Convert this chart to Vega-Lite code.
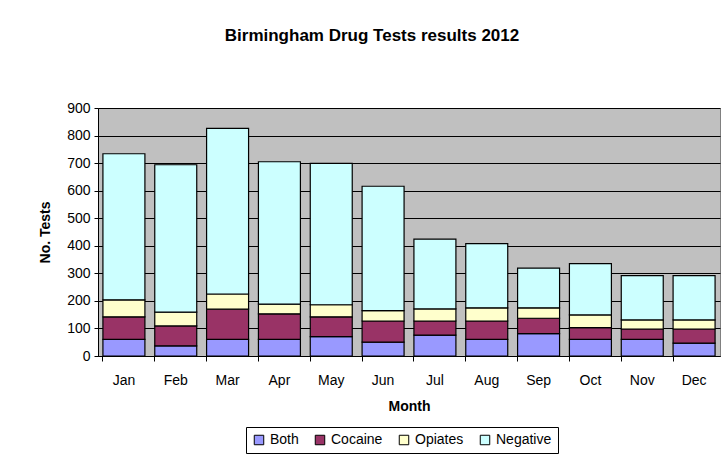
{
  "$schema": "https://vega.github.io/schema/vega-lite/v6.json",
  "autosize": "none",
  "width": 622,
  "height": 248,
  "padding": {"left": 98, "top": 108, "right": 8, "bottom": 102},
  "background": "white",
  "title": {
    "text": "Birmingham Drug Tests results 2012",
    "font": "Liberation Sans",
    "fontSize": 17,
    "fontWeight": "bold",
    "color": "black",
    "anchor": "middle",
    "dx": -37,
    "offset": 56
  },
  "data": {
    "values": [
      {"month": "Jan", "result": "Both", "tests": 60},
      {"month": "Jan", "result": "Cocaine", "tests": 82},
      {"month": "Jan", "result": "Opiates", "tests": 62},
      {"month": "Jan", "result": "Negative", "tests": 530},
      {"month": "Feb", "result": "Both", "tests": 37},
      {"month": "Feb", "result": "Cocaine", "tests": 72},
      {"month": "Feb", "result": "Opiates", "tests": 50},
      {"month": "Feb", "result": "Negative", "tests": 535},
      {"month": "Mar", "result": "Both", "tests": 60},
      {"month": "Mar", "result": "Cocaine", "tests": 110},
      {"month": "Mar", "result": "Opiates", "tests": 55},
      {"month": "Mar", "result": "Negative", "tests": 601},
      {"month": "Apr", "result": "Both", "tests": 60},
      {"month": "Apr", "result": "Cocaine", "tests": 93},
      {"month": "Apr", "result": "Opiates", "tests": 35},
      {"month": "Apr", "result": "Negative", "tests": 517},
      {"month": "May", "result": "Both", "tests": 70},
      {"month": "May", "result": "Cocaine", "tests": 72},
      {"month": "May", "result": "Opiates", "tests": 44},
      {"month": "May", "result": "Negative", "tests": 513},
      {"month": "Jun", "result": "Both", "tests": 50},
      {"month": "Jun", "result": "Cocaine", "tests": 77},
      {"month": "Jun", "result": "Opiates", "tests": 38},
      {"month": "Jun", "result": "Negative", "tests": 451},
      {"month": "Jul", "result": "Both", "tests": 76},
      {"month": "Jul", "result": "Cocaine", "tests": 51},
      {"month": "Jul", "result": "Opiates", "tests": 44},
      {"month": "Jul", "result": "Negative", "tests": 253},
      {"month": "Aug", "result": "Both", "tests": 60},
      {"month": "Aug", "result": "Cocaine", "tests": 67},
      {"month": "Aug", "result": "Opiates", "tests": 48},
      {"month": "Aug", "result": "Negative", "tests": 233},
      {"month": "Sep", "result": "Both", "tests": 81},
      {"month": "Sep", "result": "Cocaine", "tests": 56},
      {"month": "Sep", "result": "Opiates", "tests": 38},
      {"month": "Sep", "result": "Negative", "tests": 144},
      {"month": "Oct", "result": "Both", "tests": 60},
      {"month": "Oct", "result": "Cocaine", "tests": 43},
      {"month": "Oct", "result": "Opiates", "tests": 46},
      {"month": "Oct", "result": "Negative", "tests": 186},
      {"month": "Nov", "result": "Both", "tests": 60},
      {"month": "Nov", "result": "Cocaine", "tests": 38},
      {"month": "Nov", "result": "Opiates", "tests": 33},
      {"month": "Nov", "result": "Negative", "tests": 161},
      {"month": "Dec", "result": "Both", "tests": 47},
      {"month": "Dec", "result": "Cocaine", "tests": 51},
      {"month": "Dec", "result": "Opiates", "tests": 33},
      {"month": "Dec", "result": "Negative", "tests": 161}
    ]
  },
  "transform": [
    {"calculate": "indexof(['Both','Cocaine','Opiates','Negative'], datum.result)", "as": "stackRank"}
  ],
  "mark": {"type": "bar", "stroke": "black", "strokeWidth": 1.2},
  "encoding": {
    "x": {
      "field": "month",
      "type": "nominal",
      "sort": ["Jan","Feb","Mar","Apr","May","Jun","Jul","Aug","Sep","Oct","Nov","Dec"],
      "scale": {"paddingInner": 0.19, "paddingOuter": 0.095},
      "axis": {
        "title": "Month",
        "titleFont": "Liberation Sans",
        "titleFontSize": 14,
        "titleFontWeight": "bold",
        "titleColor": "black",
        "titlePadding": 12,
        "labelFont": "Liberation Sans",
        "labelFontSize": 14,
        "labelColor": "black",
        "labelAngle": 0,
        "labelPadding": 12,
        "bandPosition": 0,
        "tickColor": "black",
        "tickSize": 5,
        "domainColor": "black",
        "grid": false
      }
    },
    "y": {
      "field": "tests",
      "type": "quantitative",
      "stack": "zero",
      "scale": {"domain": [0, 900], "nice": false},
      "axis": {
        "title": "No. Tests",
        "values": [0,100,200,300,400,500,600,700,800,900],
        "titleFont": "Liberation Sans",
        "titleFontSize": 14,
        "titleFontWeight": "bold",
        "titleColor": "black",
        "titlePadding": 14,
        "labelFont": "Liberation Sans",
        "labelFontSize": 14,
        "labelColor": "black",
        "labelPadding": 4,
        "tickColor": "black",
        "tickSize": 4,
        "domainColor": "black",
        "grid": true,
        "gridColor": "black",
        "gridOpacity": 1,
        "gridWidth": 1
      }
    },
    "color": {
      "field": "result",
      "type": "nominal",
      "sort": ["Both", "Cocaine", "Opiates", "Negative"],
      "scale": {
        "domain": ["Both", "Cocaine", "Opiates", "Negative"],
        "range": ["#9999FF", "#993366", "#FFFFCC", "#CCFFFF"]
      },
      "legend": {
        "title": null,
        "orient": "none",
        "legendX": 148,
        "legendY": 319,
        "direction": "horizontal",
        "labelFont": "Liberation Sans",
        "labelFontSize": 14,
        "labelColor": "black",
        "labelOffset": 4,
        "symbolType": "square",
        "symbolSize": 90,
        "symbolStrokeColor": "black",
        "symbolStrokeWidth": 1,
        "symbolOpacity": 1,
        "columnPadding": 14,
        "padding": 6,
        "strokeColor": "black"
      }
    },
    "order": {"field": "stackRank", "type": "quantitative", "sort": "ascending"}
  },
  "config": {
    "view": {"fill": "#C0C0C0", "stroke": "#808080", "strokeWidth": 1}
  }
}
